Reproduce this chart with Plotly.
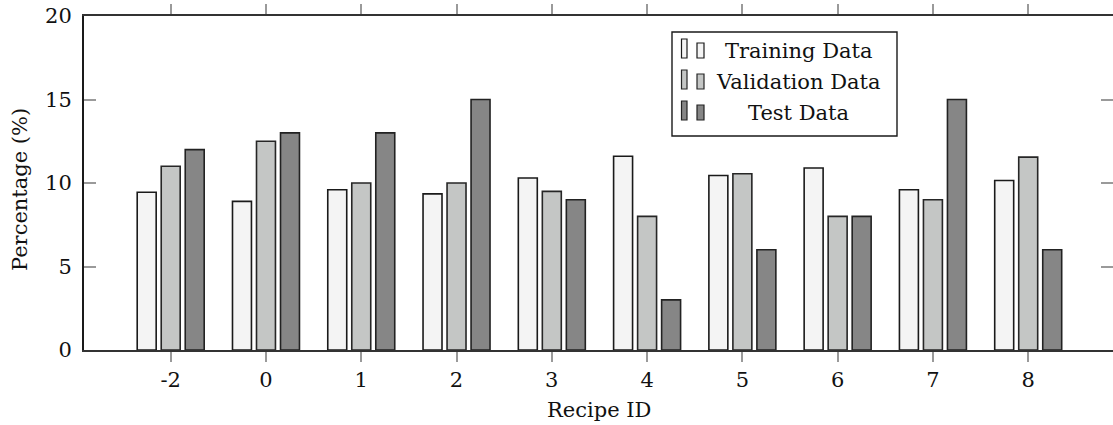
import plotly.graph_objects as go

# Share of samples per recipe in each data split (%)
recipe_ids = ["-2", "0", "1", "2", "3", "4", "5", "6", "7", "8"]
training = [9.45, 8.9, 9.6, 9.35, 10.3, 11.6, 10.45, 10.9, 9.6, 10.15]
validation = [11.0, 12.5, 10.0, 10.0, 9.5, 8.0, 10.55, 8.0, 9.0, 11.55]
test = [12.0, 13.0, 13.0, 15.0, 9.0, 3.0, 6.0, 8.0, 15.0, 6.0]

series_names = ["Training Data", "Validation Data", "Test Data"]
fills = ["#f4f4f4", "#c4c6c5", "#868686"]
edges = ["#1a1a1a", "#262626", "#222222"]

W, H = 1113, 425
L, R, T, B = 84, 0, 16, 75
FONT = "DejaVu Serif"
FS = 21

x_idx = list(range(len(recipe_ids)))

fig = go.Figure()
for name, vals, fc, ec in zip(series_names, [training, validation, test], fills, edges):
    fig.add_trace(go.Bar(
        x=x_idx, y=vals, name=name,
        marker=dict(color=fc, line=dict(color=ec, width=1.6)),
        showlegend=False,
    ))

# empty helper trace so the right-hand tick axis gets drawn
fig.add_trace(go.Scatter(x=[None], y=[None], yaxis="y2", showlegend=False,
                         hoverinfo="skip"))

# pixel -> paper helpers for the hand-drawn legend
pw = W - L - R
ph = H - T - B


def px(x):
    return (x - L) / pw


def py(y):
    return (H - B - y) / ph


shapes = [dict(type="rect", xref="paper", yref="paper",
               x0=px(672), x1=px(897), y0=py(32), y1=py(136),
               line=dict(color="#1a1a1a", width=1.4), fillcolor="white")]
annotations = []
row_bottoms = [58, 89, 120]
for name, fc, ec, yb in zip(series_names, fills, edges, row_bottoms):
    shapes.append(dict(type="rect", xref="paper", yref="paper",
                       x0=px(681.5), x1=px(687), y0=py(yb), y1=py(yb - 19),
                       line=dict(color=ec, width=1.2), fillcolor=fc))
    shapes.append(dict(type="rect", xref="paper", yref="paper",
                       x0=px(697), x1=px(704), y0=py(yb), y1=py(yb - 15),
                       line=dict(color=ec, width=1.2), fillcolor=fc))
    annotations.append(dict(text=name, xref="paper", yref="paper",
                            x=px(798), y=py(yb - 7), xanchor="center", yanchor="middle",
                            showarrow=False, font=dict(family=FONT, size=FS, color="#111")))

annotations.append(dict(text="Recipe ID", xref="paper", yref="paper",
                        x=0.5, y=py(410), xanchor="center", yanchor="middle",
                        showarrow=False, font=dict(family=FONT, size=FS, color="#111")))
annotations.append(dict(text="Percentage (%)", xref="paper", yref="paper",
                        x=px(20), y=py(190), xanchor="center", yanchor="middle",
                        textangle=-90, showarrow=False,
                        font=dict(family=FONT, size=FS, color="#111")))

fig.update_layout(
    width=W, height=H,
    margin=dict(l=L, r=R, t=T, b=B, pad=0),
    paper_bgcolor="white", plot_bgcolor="white",
    barmode="group", bargap=0.244, bargroupgap=0.21,
    font=dict(family=FONT, size=FS, color="#111"),
    shapes=shapes, annotations=annotations,
    xaxis=dict(
        range=[-0.91, 9.89], tickmode="array", tickvals=x_idx, ticktext=recipe_ids,
        showgrid=False, zeroline=False,
        showline=True, linecolor="#333", linewidth=2, mirror="allticks",
        ticks="outside", ticklen=10, tickwidth=2, tickcolor="#9a9a9a",
        tickfont=dict(family=FONT, size=FS, color="#111"),
    ),
    yaxis=dict(
        range=[0, 20], tickvals=[0, 5, 10, 15, 20],
        showgrid=False, zeroline=False,
        showline=True, linecolor="#1a1a1a", linewidth=2,
        ticks="inside", ticklen=12, tickwidth=2, tickcolor="#9a9a9a",
        ticklabelstandoff=6,
        tickfont=dict(family=FONT, size=FS, color="#111"),
    ),
    yaxis2=dict(
        overlaying="y", side="right", range=[0, 20], tickvals=[5, 10, 15],
        showgrid=False, zeroline=False, showline=False, showticklabels=False,
        ticks="inside", ticklen=12, tickwidth=2, tickcolor="#9a9a9a",
    ),
)

fig.write_html("out.html")
